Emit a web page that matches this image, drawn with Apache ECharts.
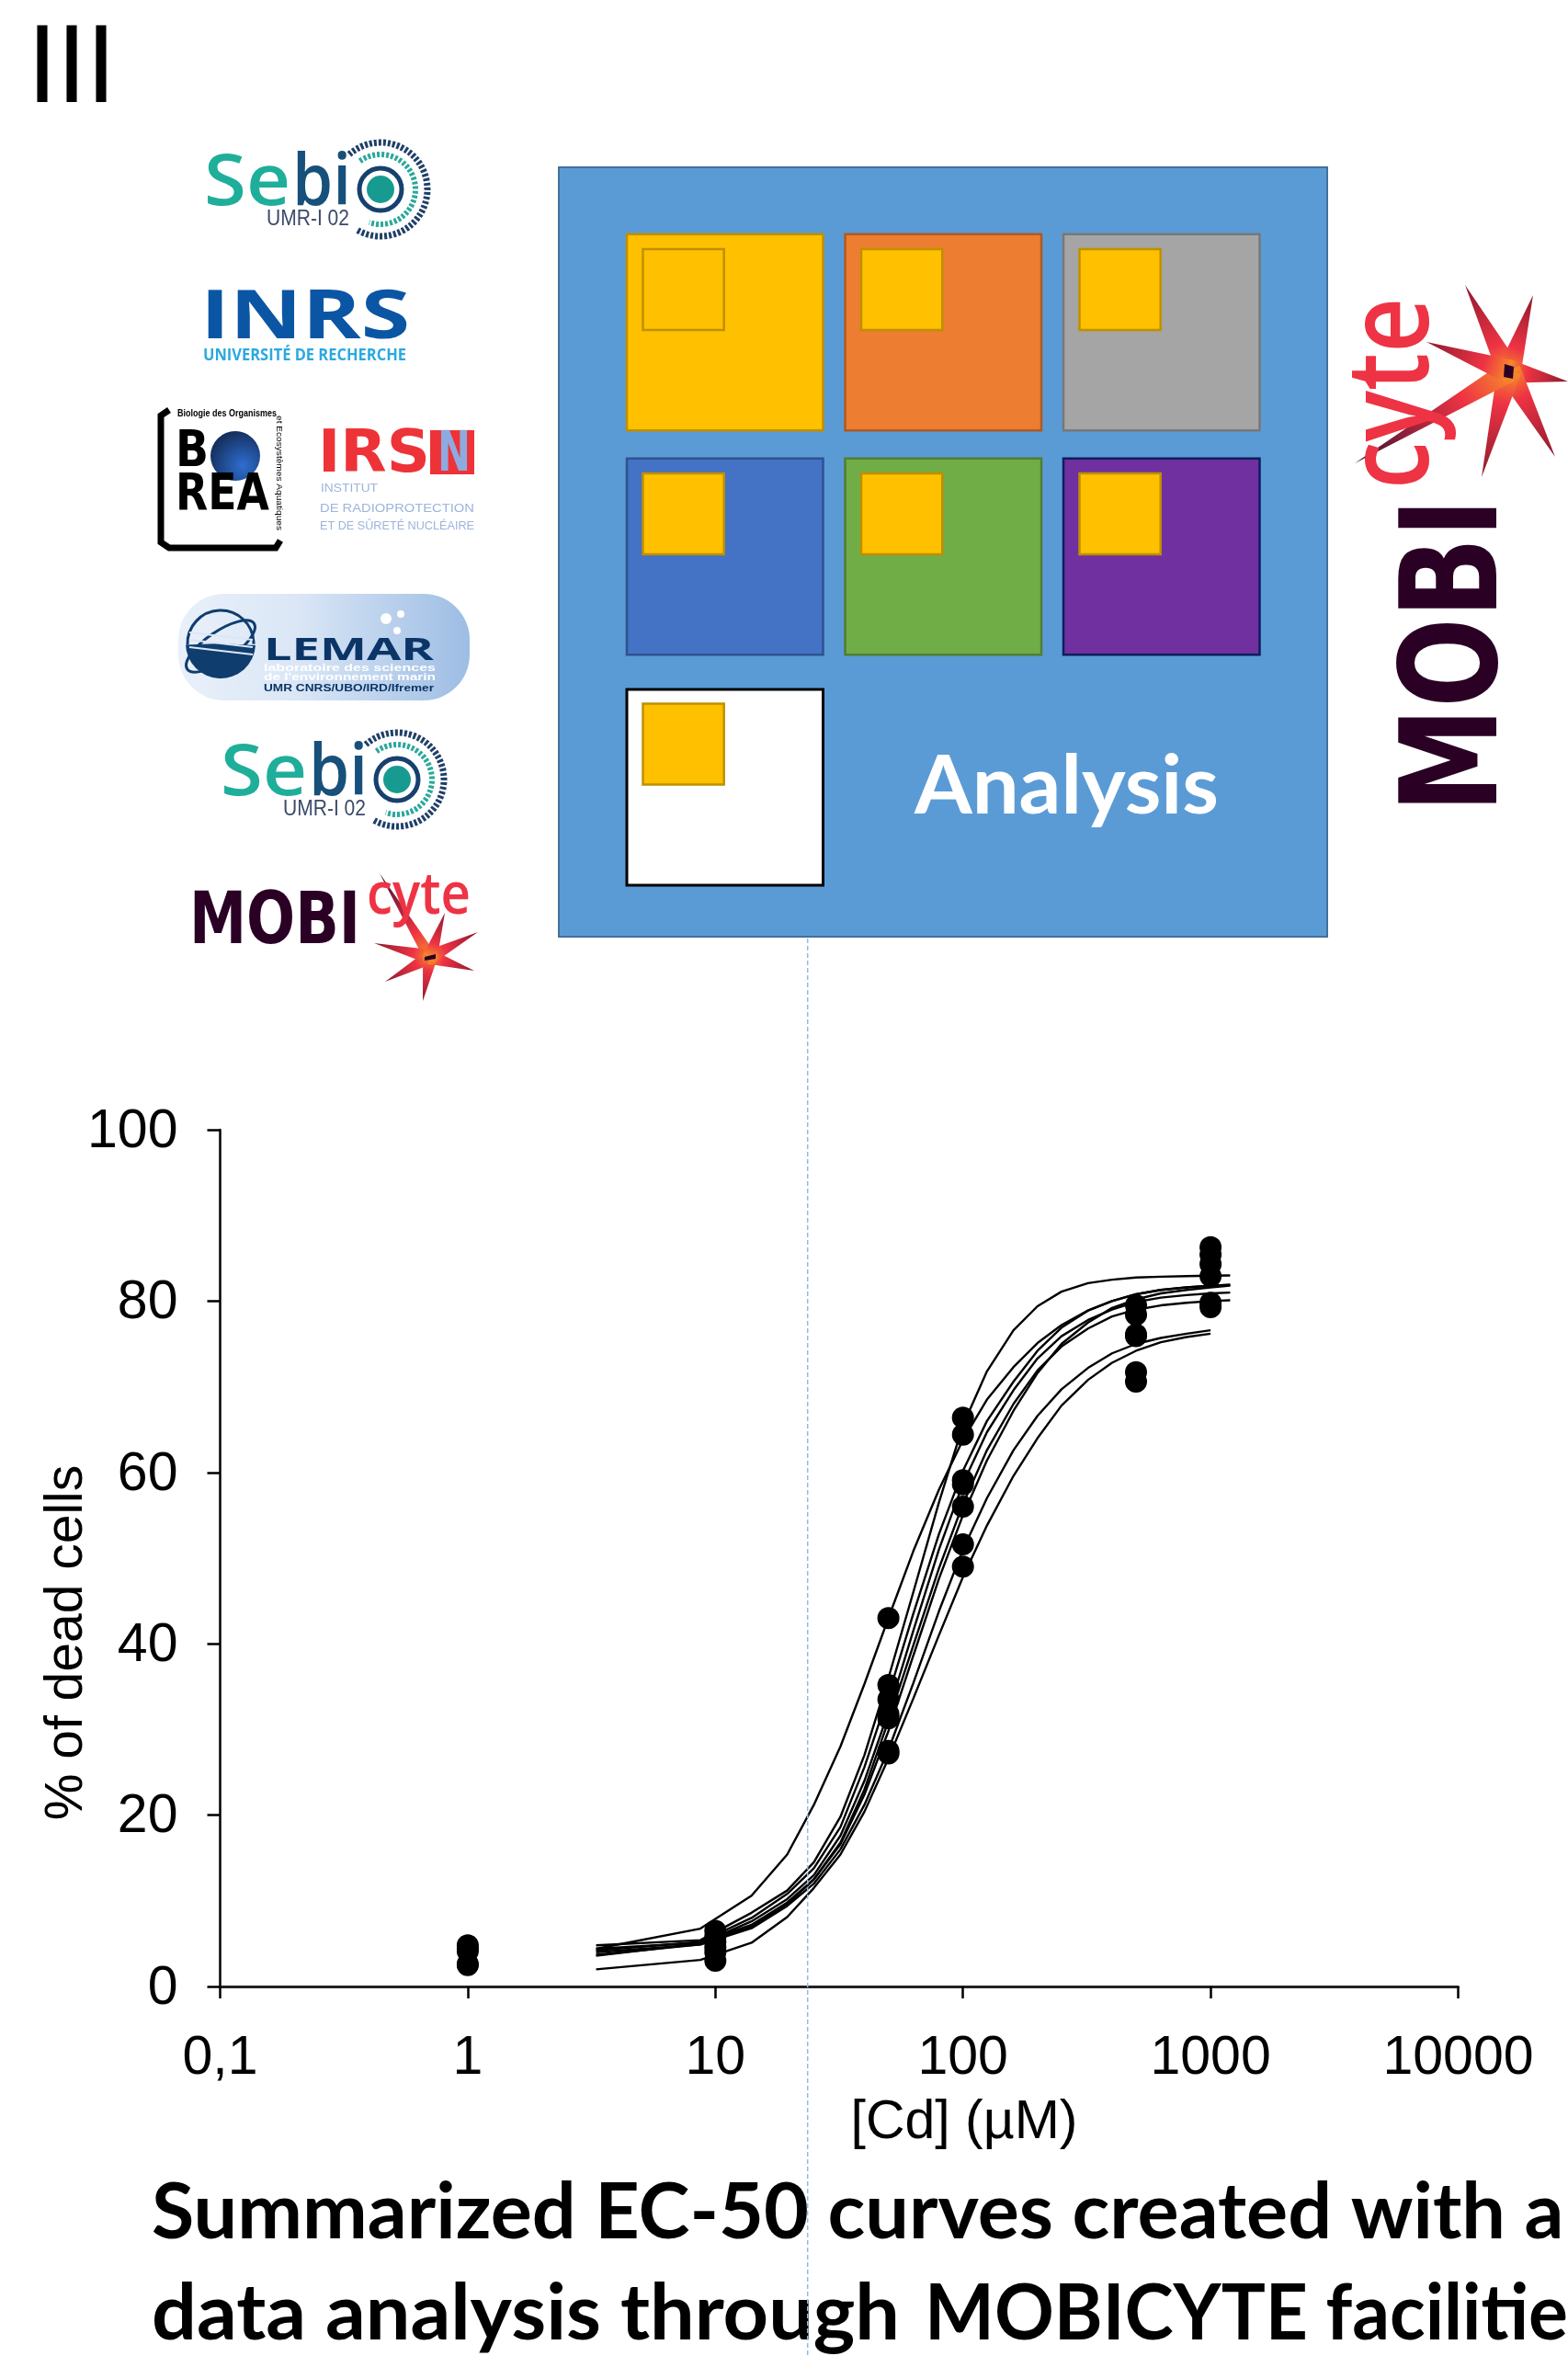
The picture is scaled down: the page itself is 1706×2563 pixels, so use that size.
<!DOCTYPE html>
<html><head><meta charset="utf-8">
<style>html,body{margin:0;padding:0;background:#fff}#c{width:1706px;height:2563px}</style>
<script src="https://cdn.jsdelivr.net/npm/echarts@6/dist/echarts.min.js"></script>
</head><body><div id="c"></div>
<script>
// ---- data ----
const yTicks = [0, 20, 40, 60, 80, 100];
const xAxisTitle = '[Cd] (µM)';
const yAxisTitle = '% of dead cells';
const curveX = [3.3, 8.7, 14, 19.5, 25, 32, 40, 50, 63, 80, 100, 125, 160, 200, 250, 320, 400, 500, 630, 800, 1000, 1200];
const curve1 = [4.8, 5.4, 8.6, 11.2, 14.5, 19.8, 27, 36, 46, 56.5, 65.5, 71.8, 76.6, 79.4, 81.1, 82.1, 82.5, 82.75, 82.85, 82.92, 82.97, 83];
const curve2 = [4.4, 6.75, 10.6, 15.4, 21.2, 28, 35.3, 43, 50.8, 58, 63.8, 68.5, 72.3, 75.1, 77.2, 78.9, 80, 80.8, 81.3, 81.6, 81.8, 81.9];
const curve3 = [4.2, 5.2, 8, 10.8, 13.8, 18.6, 25.6, 34, 43.5, 52.8, 60.2, 66, 70.6, 74.2, 76.9, 78.9, 80, 80.8, 81.3, 81.6, 81.8, 81.9];
const curve4 = [3.6, 5, 7.6, 10.2, 13, 17.6, 24, 32, 41.5, 51, 58.7, 64.7, 69.6, 73.3, 75.9, 77.8, 79, 79.9, 80.4, 80.7, 80.9, 81];
const curve5 = [4.4, 5.1, 7.2, 9.8, 12.5, 16.8, 23, 31, 39.8, 48.8, 56.3, 62.6, 68, 71.9, 74.7, 76.8, 78.2, 79, 79.5, 79.8, 80, 80.1];
const curve6 = [4, 4.9, 7, 9.6, 12.5, 16.6, 22.4, 29.8, 38.6, 47.6, 55, 61.4, 67.2, 71.6, 75, 77.5, 79.2, 80.2, 80.9, 81.3, 81.6, 81.8];
const curve7 = [3.7, 4.9, 6.8, 9.4, 12, 16, 21.2, 27.6, 35.4, 43.8, 51, 57, 62.6, 66.6, 69.7, 72.2, 73.9, 75, 75.7, 76.2, 76.6];
const curve8 = [2, 3.1, 5.1, 8.1, 11.5, 15.4, 20.4, 26.6, 33.6, 41, 47.8, 53.8, 59.6, 64, 67.8, 70.8, 72.8, 74.2, 75.2, 75.8, 76.2];
const dots1 = [4.8, 4.4, 4.1, 2.6, 2.5];
const dots10 = [6.5, 5.8, 5.2, 4.6, 4, 3];
const dots50 = [43, 35.2, 33.5, 31.8, 31.3, 27.5, 27.2];
const dots100 = [66.4, 64.4, 59.1, 58.6, 56, 51.6, 49];
const dots500 = [79.5, 78.4, 76.1, 75.9, 71.7, 70.6];
const dots1000 = [86.3, 85.4, 84.3, 82.9, 79.8, 79.3];

const curves = [curve1, curve2, curve3, curve4, curve5, curve6, curve7, curve8];
const dotGroups = [[1, dots1], [10, dots10], [50, dots50], [100, dots100], [500, dots500], [1000, dots1000]];

// ---- drawing helpers for the diagram and logos ----
const ctx = document.createElement('canvas').getContext('2d');
function T(s, x, y, size, o) {
  o = o || {};
  const font = (o.weight || 'normal') + ' ' + size + 'px "' + (o.font || 'Lato') + '", sans-serif';
  let sx = o.sx || 1;
  if (o.w) { ctx.font = font; sx = o.w / ctx.measureText(o.fit || s).width; }
  return { type: 'text', x, y, scaleX: sx, scaleY: o.sy || 1, rotation: o.rot || 0, z: o.z || 5,
    style: { text: s, font, fill: o.color || '#000', textAlign: o.align || 'left', textVerticalAlign: 'middle', opacity: o.opacity == null ? 1 : o.opacity } };
}
let o_z = 3;
function R(x0, y0, x1, y1, fill, stroke, lw) {
  return { type: 'rect', z: o_z, shape: { x: x0, y: y0, width: x1 - x0, height: y1 - y0 },
    style: { fill, stroke: stroke || 'none', lineWidth: lw == null ? 2 : lw } };
}
function C(cx, cy, r, fill) { return { type: 'circle', z: 4, shape: { cx, cy, r }, style: { fill } }; }
function A(cx, cy, r, a0, a1, stroke, lw, dash) {
  return { type: 'arc', z: 4, shape: { cx, cy, r, startAngle: a0, endAngle: a1, clockwise: true },
    style: { stroke, lineWidth: lw, fill: 'none', lineDash: dash || null } };
}
function spike(cx, cy, tx, ty, w, tip) {
  const dx = tx - cx, dy = ty - cy, l = Math.hypot(dx, dy), nx = -dy / l * w, ny = dx / l * w;
  return { type: 'polygon', z: 4, shape: { points: [[cx + nx, cy + ny], [tx, ty], [cx - nx, cy - ny]] },
    style: { fill: { type: 'linear', global: true, x: cx, y: cy, x2: tx, y2: ty,
      colorStops: [{ offset: 0, color: '#f58a2a' }, { offset: 0.3, color: '#ee3344' }, { offset: 1, color: tip }] } } };
}
function sebio(dx, dy) {
  const cx = 414 + dx, cy = 206 + dy;
  return [
    T('Se', 222 + dx, 201 + dy, 78, { w: 94, color: '#1fae9a', font: 'Open Sans', weight: '600' }),
    T('bi', 318 + dx, 201 + dy, 78, { w: 64, color: '#17507a', font: 'Open Sans', weight: '600' }),
    T('UMR-I 02', 290 + dx, 239 + dy, 23, { w: 90, color: '#3b4a6b', font: 'Liberation Sans' }),
    C(cx, cy, 15, '#179b90'),
    A(cx, cy, 23, 0, 6.283, '#17406e', 5),
    A(cx, cy, 38, -2.2, 1.9, '#2aa89a', 6, [3, 2]),
    A(cx, cy, 51, -2.3, 2.1, '#1f3f68', 7, [3, 2])
  ];
}
function star(cx, cy, pts, w) {
  return pts.map(p => spike(cx, cy, p[0], p[1], p[3] || w, p[2] || '#8c1a2e'));
}

const diagramSquares = [
  [682, 254.7, '#FFC000', '#BF9000'], [919.5, 254.7, '#ED7D31', '#AE5A21'], [1157, 254.7, '#A5A5A5', '#787878'],
  [682, 498.7, '#4472C4', '#2F528F'], [919.5, 498.7, '#70AD47', '#507E32'], [1157, 498.7, '#7030A0', '#0B1F5C'],
  [682, 750, '#FFFFFF', '#000000']
];

const g = [];
g.push(T('III', 30, 74, 116, { w: 96, fit: 'III', color: '#000', font: 'Lato' }));
// analysis panel
g.push(R(608, 182, 1444, 1019, '#5B9BD5', '#41719C', 2));
diagramSquares.forEach(s => {
  g.push(R(s[0], s[1], s[0] + 213.5, s[1] + (s[1] > 700 ? 213 : 213.5), s[2], s[3], s[3] === '#000000' ? 3 : 2.5));
  const ix = s[0] + 17.5, iy = s[1] + (s[1] > 700 ? 15.6 : 16.2);
  g.push(Object.assign(R(ix, iy, ix + 88.2, iy + 88, '#FFC000', '#BF9000', 2.5), { z: 4 }));
});
g.push(T('Analysis', 995, 857, 88, { w: 331, color: '#fff', weight: 'bold' }));
// caption
g.push(T('Summarized EC-50 curves created with a', 165, 2408, 84, { w: 1473, fit: 'Summarized EC-50 curves created with', weight: 'bold' }));
g.push(T('data analysis through', 165, 2518, 84, { w: 814, weight: 'bold' }));
g.push(T('MOBICYTE facilities', 1006, 2518, 84, { w: 700, fit: 'MOBICYTE facilitie', weight: 'bold' }));
// logos
g.push(...sebio(0, 0), ...sebio(18, 642));
g.push(T('INRS', 218, 347, 74, { w: 228, color: '#0b56a4', font: 'Open Sans', weight: 'bold' }));
g.push(T('UNIVERSITÉ DE RECHERCHE', 221, 387, 18, { w: 221, color: '#29a9e0', font: 'Open Sans', weight: 'bold' }));
// BOREA
g.push({ type: 'polyline', z: 4, shape: { points: [[184, 446], [175, 452], [175, 590], [184, 596], [300, 596], [305, 588]] }, style: { stroke: '#000', lineWidth: 7, fill: 'none' } });
g.push(T('Biologie des Organismes', 193, 450, 10, { w: 108, font: 'Liberation Sans', weight: 'bold' }));
g.push(T('et Ecosystèmes Aquatiques', 303, 452, 9, { w: 125, rot: -Math.PI / 2, font: 'Liberation Sans' }));
g.push(T('B', 191, 492, 56, { w: 36, font: 'DejaVu Sans', weight: 'bold' }));
g.push({ type: 'circle', z: 4, shape: { cx: 256, cy: 496, r: 27 }, style: { fill: { type: 'radial', x: 0.65, y: 0.7, r: 0.7, colorStops: [{ offset: 0, color: '#2f6ed0' }, { offset: 1, color: '#15305f' }] } } });
g.push(T('REA', 191, 539, 56, { w: 102, font: 'DejaVu Sans', weight: 'bold' }));
// IRSN
g.push(T('IRS', 346, 496, 64, { w: 122, color: '#ee3338', font: 'DejaVu Sans', weight: 'bold' }));
g.push(Object.assign(R(468, 468, 516, 516, '#ee3338'), { z: 4 }));
g.push(T('N', 476, 496, 60, { w: 36, color: '#8eaadf', font: 'DejaVu Sans', weight: 'bold', z: 6 }));
g.push(T('INSTITUT', 349, 531, 13, { w: 62, color: '#9db4dc', font: 'Liberation Sans' }));
g.push(T('DE RADIOPROTECTION', 348, 553, 13, { w: 168, color: '#9db4dc', font: 'Liberation Sans' }));
g.push(T('ET DE SÛRETÉ NUCLÉAIRE', 348, 572, 13, { w: 168, color: '#9db4dc', font: 'Liberation Sans' }));
// LEMAR
g.push({ type: 'rect', z: 3, shape: { x: 194, y: 646, width: 317, height: 116, r: 50 }, style: { fill: { type: 'linear', x: 0, y: 0, x2: 1, y2: 0, colorStops: [{ offset: 0, color: '#e8f0fa' }, { offset: 0.4, color: '#dbe7f6' }, { offset: 1, color: '#9dbde4' }] } } });
g.push({ type: 'sector', z: 4, shape: { cx: 240, cy: 700, r0: 0, r: 38, startAngle: 0.05, endAngle: 3.1, clockwise: true }, style: { fill: '#0f3d6e' } });
g.push(A(240, 700, 36, 3.1, 6.3, '#0f3d6e', 3));
g.push({ type: 'ellipse', z: 4, rotation: 0.6, originX: 240, originY: 703, shape: { cx: 240, cy: 703, rx: 44, ry: 16 }, style: { fill: 'none', stroke: '#0f3d6e', lineWidth: 3 } });
[692, 700, 708].forEach(yy => g.push({ type: 'line', z: 5, shape: { x1: 206, y1: yy - 4, x2: 275, y2: yy + 4 }, style: { stroke: '#dbe7f6', lineWidth: 2 } }));
g.push(T('LEMAR', 287, 708, 34, { w: 185, color: '#0b3566', font: 'Open Sans', weight: 'bold' }));
g.push(T('laboratoire des sciences', 287, 727, 11, { w: 187, color: '#fff', font: 'Liberation Sans', weight: 'bold' }));
g.push(T('de l\'environnement marin', 287, 737, 11, { w: 187, color: '#fff', font: 'Liberation Sans', weight: 'bold' }));
g.push(T('UMR CNRS/UBO/IRD/Ifremer', 287, 749, 10, { w: 185, color: '#0b3566', font: 'Liberation Sans', weight: 'bold' }));
g.push(C(420, 673, 6, '#fff'), C(436, 668, 4, '#fff'), C(432, 686, 4, '#fff'));
// MOBIcyte, lower-left
g.push(T('MOBI', 206, 1006, 78, { w: 186, color: '#2a0025', font: 'DejaVu Sans', weight: 'bold' }));
g.push(...star(468, 1041, [[413, 950, '#3a1030', 7], [407, 1026], [419, 1068], [460, 1089], [516, 1056], [520, 1014], [484, 993]], 8));
g.push(T('cyte', 399, 976, 64, { w: 113, color: '#ee3344', font: 'Open Sans', weight: '600', z: 6 }));
g.push({ type: 'polygon', z: 6, shape: { points: [[462, 1041], [474, 1038], [474, 1043], [462, 1045]] }, style: { fill: '#2a0025' } });
// MOBIcyte, right, rotated
g.push(T('MOBI', 1590, 884, 146, { w: 342, color: '#2a0025', font: 'DejaVu Sans', weight: 'bold', rot: Math.PI / 2 }));
g.push(...star(1642, 404, [[1594, 310], [1668, 321], [1706, 415], [1692, 497], [1612, 519], [1474, 504, '#3a1030', 12], [1552, 372]], 13));
g.push(T('cyte', 1518, 532, 125, { w: 208, color: '#ee3344', font: 'Open Sans', weight: '600', rot: Math.PI / 2, z: 6 }));
g.push({ type: 'polygon', z: 6, shape: { points: [[1637, 396], [1647, 399], [1646, 412], [1636, 410]] }, style: { fill: '#2a0025' } });
// dashed guide
g.push({ type: 'line', z: 100, shape: { x1: 878.7, y1: 1021, x2: 878.7, y2: 2563 }, style: { stroke: '#8fbbe6', lineWidth: 1.5, lineDash: [5, 3] } });

const series = curves.map(c => ({
  type: 'line', showSymbol: false, symbol: 'none', smooth: false, z: 3, silent: true,
  lineStyle: { color: '#000', width: 2.4 },
  data: c.map((v, i) => [curveX[i], v])
}));
series.push({
  type: 'scatter', z: 4, symbol: 'circle', symbolSize: 24, itemStyle: { color: '#000', opacity: 1 }, silent: true,
  data: dotGroups.flatMap(([x, vals]) => vals.map(v => [x, v]))
});

const chart = echarts.init(document.getElementById('c'), null, { renderer: 'canvas' });
const labelFont = { fontFamily: '"Liberation Sans", Arial, sans-serif', fontSize: 59, color: '#000' };
chart.setOption({
  animation: false,
  backgroundColor: '#fff',
  grid: { left: 239.5, top: 1229, width: 1347, height: 932 },
  xAxis: {
    type: 'log', logBase: 10, min: 0.1, max: 10000,
    name: xAxisTitle, nameLocation: 'middle', nameGap: 119,
    nameTextStyle: Object.assign({ padding: [0, 0, 0, 272] }, labelFont),
    axisLine: { show: true, onZero: true, lineStyle: { color: '#222', width: 3 } },
    axisTick: { show: true, length: 13, lineStyle: { color: '#000', width: 2.5 } },
    axisLabel: Object.assign({ margin: 49, showMinLabel: true, showMaxLabel: true, hideOverlap: false,
      formatter: v => String(+(+v).toPrecision(3)).replace('.', ',') }, labelFont),
    minorTick: { show: false }, splitLine: { show: false }
  },
  yAxis: {
    type: 'value', min: yTicks[0], max: yTicks[yTicks.length - 1], interval: yTicks[1] - yTicks[0],
    name: yAxisTitle, nameLocation: 'middle', nameGap: 138, nameMoveOverlap: false,
    nameTextStyle: Object.assign({ padding: [0, 184, 0, 0] }, labelFont, { fontSize: 57 }),
    axisLine: { show: true, onZero: false, lineStyle: { color: '#000', width: 2.5 } },
    axisTick: { show: true, length: 14, lineStyle: { color: '#000', width: 2.5 } },
    axisLabel: Object.assign({ margin: 46, formatter: v => '{a|' + v + '}',
      rich: { a: Object.assign({ padding: [5, 0, 0, 0] }, labelFont) } }, labelFont),
    splitLine: { show: false }
  },
  graphic: { elements: g },
  series
});
</script></body></html>
